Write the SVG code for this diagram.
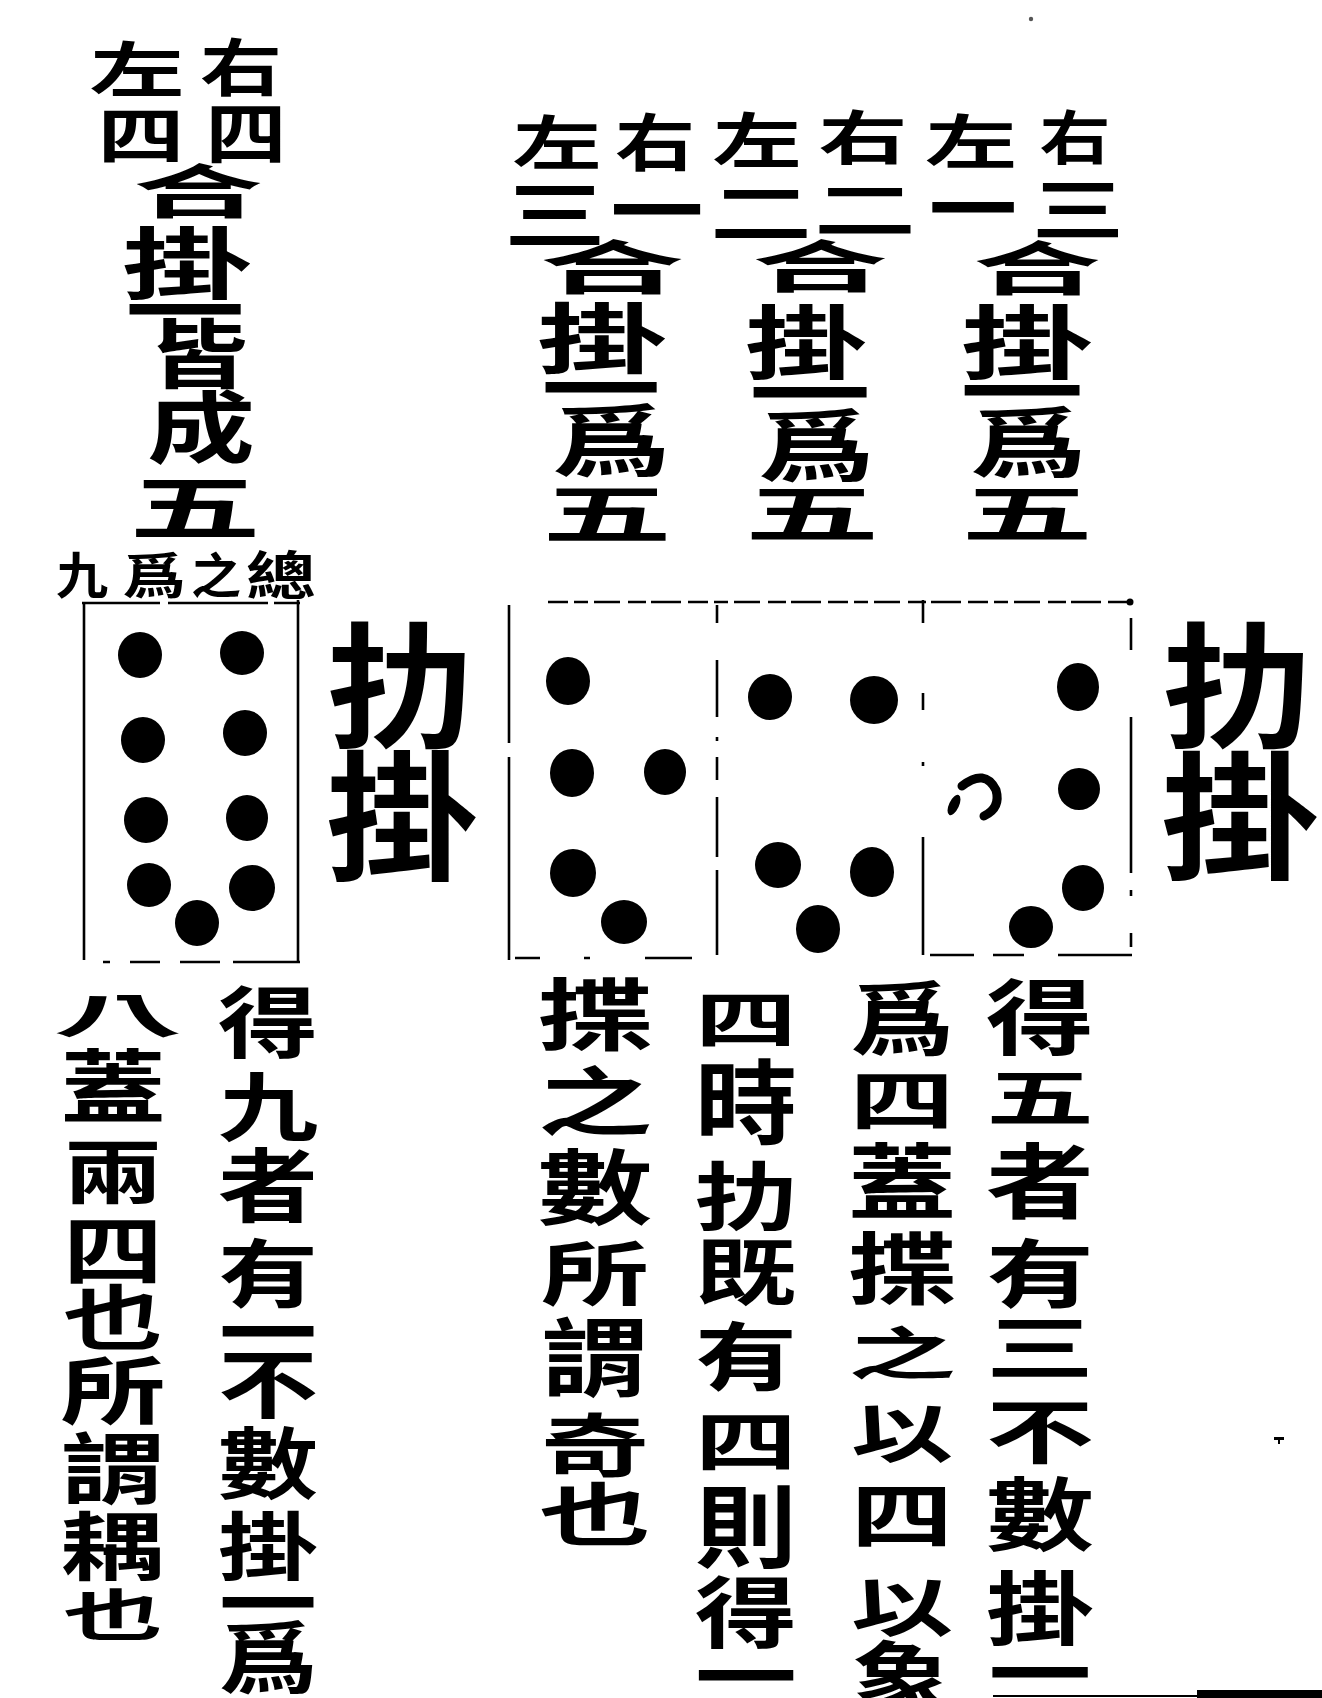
<svg xmlns="http://www.w3.org/2000/svg" width="1322" height="1698" viewBox="0 0 1322 1698">
<style>
.k{font-family:"Noto Sans CJK TC","Noto Sans CJK SC","Noto Sans CJK JP",sans-serif;font-weight:700;font-size:100px;text-anchor:middle;dominant-baseline:central;fill:#000}
.ln{stroke:#000;stroke-width:2.6;fill:none}
.dot{fill:#000}
</style>
<rect x="0" y="0" width="1322" height="1698" fill="#fff"/>

<g id="label-left-top">
<text class="k" transform="translate(241,64) scale(.82,.62)">右</text>
<text class="k" transform="translate(246,129) scale(.81,.68)">四</text>
<text class="k" transform="translate(137,66) scale(.95,.6)">左</text>
<text class="k" transform="translate(141,132) scale(.87,.62)">四</text>
<text class="k" transform="translate(198,188) scale(1.3,.58)">合</text>
<text class="k" transform="translate(187,259) scale(1.3,.78)">掛</text>
<text class="k" transform="translate(185,305) scale(1.2,.8)">一</text>
<text class="k" transform="translate(198,349) scale(1.0,.75)">皆</text>
<text class="k" transform="translate(201,423) scale(1.08,.78)">成</text>
<text class="k" transform="translate(195,503) scale(1.32,.7)">五</text>
</g>

<g id="label-nine">
<text class="k" transform="translate(82,572) scale(.52,.5)">九</text>
<text class="k" transform="translate(154,572) scale(.64,.5)">爲</text>
<text class="k" transform="translate(216,572) scale(.5,.48)">之</text>
<text class="k" transform="translate(281,572) scale(.7,.52)">總</text>
</g>

<g id="box-left">
<line class="ln" x1="84" y1="603" x2="84" y2="960"/>
<line class="ln" x1="298" y1="600" x2="298" y2="962"/>
<line class="ln" x1="82" y1="603" x2="300" y2="603" stroke-dasharray="78 8 100 6 40"/>
<path class="ln" d="M103 962H110M130 962H160M180 962H220M233 962H300"/>
<ellipse class="dot" cx="140" cy="655" rx="22" ry="23"/>
<ellipse class="dot" cx="242" cy="653" rx="22" ry="22"/>
<ellipse class="dot" cx="143" cy="740" rx="22" ry="23"/>
<ellipse class="dot" cx="245" cy="733" rx="22" ry="23"/>
<ellipse class="dot" cx="146" cy="820" rx="22" ry="23"/>
<ellipse class="dot" cx="247" cy="818" rx="21" ry="23"/>
<ellipse class="dot" cx="149" cy="885" rx="22" ry="22"/>
<ellipse class="dot" cx="252" cy="888" rx="23" ry="23"/>
<ellipse class="dot" cx="197" cy="923" rx="22" ry="23"/>
</g>

<g id="title-left">
<text class="k" transform="translate(400,678) scale(1.45,1.35)">扐</text>
<text class="k" transform="translate(402,808) scale(1.52,1.4)">掛</text>
</g>

<g id="labels-right-top">
<text class="k" transform="translate(1075,134) scale(.71,.58)">右</text>
<text class="k" transform="translate(1078,205) scale(.92,.68)">三</text>
<text class="k" transform="translate(971,138) scale(.92,.58)">左</text>
<text class="k" transform="translate(973,203) scale(.88,.8)">一</text>
<text class="k" transform="translate(863,134) scale(.89,.58)">右</text>
<text class="k" transform="translate(865,206) scale(1.02,.62)">二</text>
<text class="k" transform="translate(757,137) scale(.89,.6)">左</text>
<text class="k" transform="translate(761,208) scale(1.02,.66)">二</text>
<text class="k" transform="translate(655,139) scale(.8,.62)">右</text>
<text class="k" transform="translate(657,205) scale(.93,.8)">一</text>
<text class="k" transform="translate(557,139) scale(.89,.58)">左</text>
<text class="k" transform="translate(555,210) scale(1.02,.74)">三</text>

<text class="k" transform="translate(612,264) scale(1.45,.58)">合</text>
<text class="k" transform="translate(602,334) scale(1.3,.76)">掛</text>
<text class="k" transform="translate(601,383) scale(1.2,.8)">一</text>
<text class="k" transform="translate(611,435) scale(1.2,.8)">爲</text>
<text class="k" transform="translate(607,509) scale(1.3,.64)">五</text>

<text class="k" transform="translate(820,262) scale(1.36,.56)">合</text>
<text class="k" transform="translate(806,337) scale(1.22,.8)">掛</text>
<text class="k" transform="translate(810,388) scale(1.22,.8)">一</text>
<text class="k" transform="translate(816,440) scale(1.18,.8)">爲</text>
<text class="k" transform="translate(812,510) scale(1.35,.62)">五</text>

<text class="k" transform="translate(1037,265) scale(1.28,.58)">合</text>
<text class="k" transform="translate(1027,337) scale(1.32,.8)">掛</text>
<text class="k" transform="translate(1022,386) scale(1.24,.8)">一</text>
<text class="k" transform="translate(1028,438) scale(1.18,.78)">爲</text>
<text class="k" transform="translate(1027,510) scale(1.32,.62)">五</text>
</g>

<g id="boxes-right">
<path class="ln" d="M509 605V743M509 757V960"/>
<line class="ln" x1="548" y1="602" x2="1128" y2="602" stroke-dasharray="20 6 14 6 26 8 18 5 30 7"/>
<circle class="dot" cx="1130" cy="602" r="3.5"/>
<path class="ln" d="M717 605V623M717 660V717M717 737V741M717 757V780M717 797V857M717 870V955"/>
<path class="ln" d="M923 600V623M923 693V710M923 762V766M923 837V955"/>
<path class="ln" d="M1131 618V650M1131 717V873M1131 890V896M1131 933V947"/>
<path class="ln" d="M515 958H540M584 958H590M645 958H692"/>
<path class="ln" d="M930 955H974M993 955H1024M1058 955H1132"/>
<ellipse class="dot" cx="568" cy="681" rx="22" ry="24"/>
<ellipse class="dot" cx="572" cy="773" rx="22" ry="24"/>
<ellipse class="dot" cx="665" cy="772" rx="21" ry="23"/>
<ellipse class="dot" cx="573" cy="873" rx="23" ry="24"/>
<ellipse class="dot" cx="624" cy="922" rx="23" ry="22"/>
<ellipse class="dot" cx="770" cy="697" rx="22" ry="23"/>
<ellipse class="dot" cx="874" cy="700" rx="24" ry="24"/>
<ellipse class="dot" cx="778" cy="865" rx="23" ry="23"/>
<ellipse class="dot" cx="872" cy="872" rx="22" ry="25"/>
<ellipse class="dot" cx="818" cy="929" rx="22" ry="24"/>
<ellipse class="dot" cx="1078" cy="687" rx="21" ry="24"/>
<ellipse class="dot" cx="1079" cy="789" rx="21" ry="21"/>
<ellipse class="dot" cx="1083" cy="888" rx="21" ry="23"/>
<ellipse class="dot" cx="1031" cy="927" rx="22" ry="21"/>
<path d="M962 786 Q985 768 996 790 Q1001 808 984 816" stroke="#000" stroke-width="9" fill="none" stroke-linecap="round"/>
<ellipse class="dot" cx="954" cy="805" rx="5" ry="11" transform="rotate(25 954 805)"/>
</g>

<g id="title-right">
<text class="k" transform="translate(1237,678) scale(1.48,1.35)">扐</text>
<text class="k" transform="translate(1240,808) scale(1.58,1.38)">掛</text>
</g>

<g id="text-left-col1">
<text class="k" transform="translate(268,1018) scale(1.0,.78)">得</text>
<text class="k" transform="translate(268,1102) scale(1.0,.75)">九</text>
<text class="k" transform="translate(268,1180) scale(1.0,.8)">者</text>
<text class="k" transform="translate(268,1269) scale(1.0,.74)">有</text>
<text class="k" transform="translate(268,1327) scale(.98,.8)">一</text>
<text class="k" transform="translate(268,1379) scale(1.0,.75)">不</text>
<text class="k" transform="translate(268,1459) scale(1.0,.78)">數</text>
<text class="k" transform="translate(268,1542) scale(1.0,.74)">掛</text>
<text class="k" transform="translate(268,1598) scale(.98,.8)">一</text>
<text class="k" transform="translate(268,1652) scale(1.0,.8)">爲</text>
</g>

<g id="text-left-col2">
<text class="k" transform="translate(118,1012) scale(1.3,.46)">八</text>
<text class="k" transform="translate(113,1081) scale(1.05,.8)">蓋</text>
<text class="k" transform="translate(113,1168) scale(1.0,.7)">兩</text>
<text class="k" transform="translate(113,1246) scale(1.0,.76)">四</text>
<text class="k" transform="translate(113,1314) scale(1.0,.7)">也</text>
<text class="k" transform="translate(113,1386) scale(1.05,.74)">所</text>
<text class="k" transform="translate(113,1464) scale(1.05,.78)">謂</text>
<text class="k" transform="translate(113,1542) scale(1.05,.74)">耦</text>
<text class="k" transform="translate(113,1611) scale(1.0,.55)">也</text>
</g>

<g id="text-right-col1">
<text class="k" transform="translate(1040,1013) scale(1.08,.82)">得</text>
<text class="k" transform="translate(1040,1094) scale(1.08,.62)">五</text>
<text class="k" transform="translate(1040,1177) scale(1.08,.82)">者</text>
<text class="k" transform="translate(1040,1269) scale(1.08,.74)">有</text>
<text class="k" transform="translate(1040,1343) scale(1.08,.72)">三</text>
<text class="k" transform="translate(1040,1427) scale(1.08,.7)">不</text>
<text class="k" transform="translate(1040,1509) scale(1.08,.8)">數</text>
<text class="k" transform="translate(1040,1603) scale(1.08,.8)">掛</text>
<text class="k" transform="translate(1040,1668) scale(1.03,.8)">一</text>
</g>

<g id="text-right-col2">
<text class="k" transform="translate(902,1013) scale(1.05,.82)">爲</text>
<text class="k" transform="translate(902,1096) scale(1.05,.66)">四</text>
<text class="k" transform="translate(902,1177) scale(1.08,.82)">蓋</text>
<text class="k" transform="translate(902,1264) scale(1.08,.78)">揲</text>
<text class="k" transform="translate(902,1350) scale(1.08,.56)">之</text>
<text class="k" transform="translate(902,1429) scale(1.02,.65)">以</text>
<text class="k" transform="translate(902,1511) scale(1.02,.72)">四</text>
<text class="k" transform="translate(902,1603) scale(1.02,.65)">以</text>
<text class="k" transform="translate(902,1673) scale(1.02,.8)">象</text>
</g>

<g id="text-right-col3">
<text class="k" transform="translate(746,1016) scale(1.02,.62)">四</text>
<text class="k" transform="translate(746,1097) scale(1.02,.92)">時</text>
<text class="k" transform="translate(746,1192) scale(1.02,.74)">扐</text>
<text class="k" transform="translate(746,1267) scale(1.02,.74)">既</text>
<text class="k" transform="translate(746,1352) scale(1.02,.74)">有</text>
<text class="k" transform="translate(746,1437) scale(1.02,.66)">四</text>
<text class="k" transform="translate(746,1521) scale(1.02,.9)">則</text>
<text class="k" transform="translate(746,1608) scale(1.02,.78)">得</text>
<text class="k" transform="translate(746,1671) scale(1.02,.8)">一</text>
</g>

<g id="text-right-col4">
<text class="k" transform="translate(595,1010) scale(1.15,.78)">揲</text>
<text class="k" transform="translate(595,1097) scale(1.15,.74)">之</text>
<text class="k" transform="translate(595,1182) scale(1.15,.82)">數</text>
<text class="k" transform="translate(595,1269) scale(1.08,.7)">所</text>
<text class="k" transform="translate(595,1353) scale(1.08,.86)">謂</text>
<text class="k" transform="translate(595,1441) scale(1.08,.68)">奇</text>
<text class="k" transform="translate(595,1511) scale(1.12,.68)">也</text>
</g>

<g id="marks">
<circle cx="1031" cy="19" r="2.2" fill="#555"/>
<path d="M1274 1437H1284V1440H1280V1444H1278V1440H1274Z" fill="#000"/>
<line x1="993" y1="1696" x2="1197" y2="1696" stroke="#000" stroke-width="2"/>
<rect x="1197" y="1690" width="125" height="8" fill="#000"/>
</g>
</svg>
